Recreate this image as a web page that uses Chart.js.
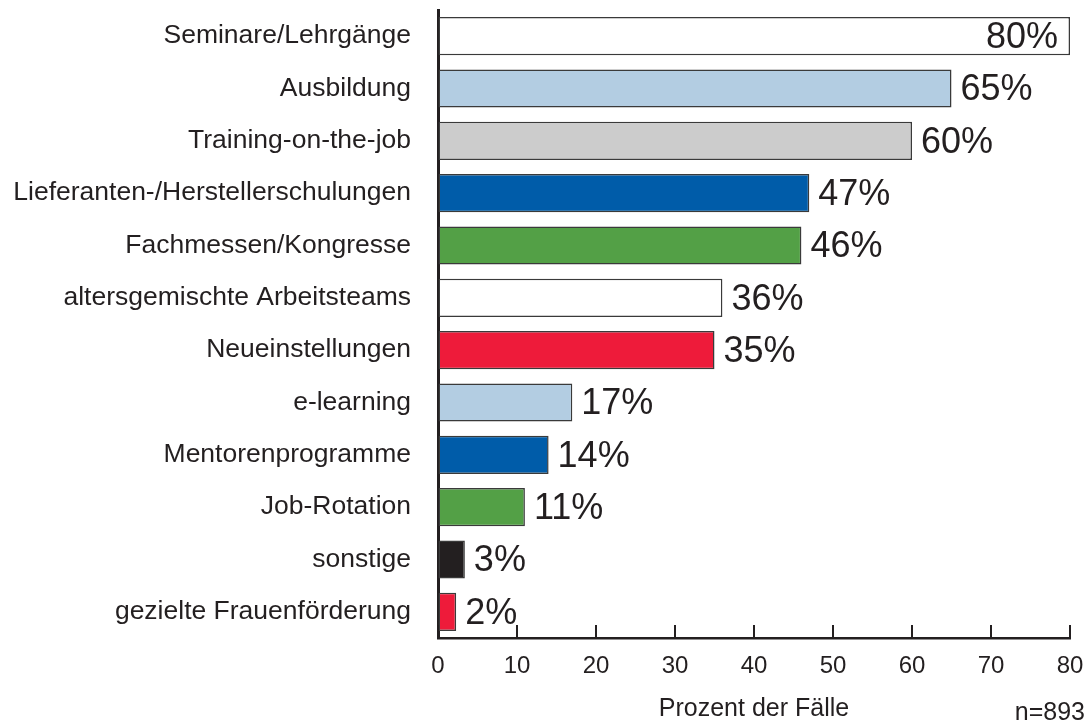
<!DOCTYPE html>
<html><head><meta charset="utf-8">
<script src="https://cdn.jsdelivr.net/npm/chart.js@4.4.0/dist/chart.umd.min.js"></script>
<style>html,body{margin:0;padding:0;background:#fff}#wrap{width:1091px;height:724px;position:relative}</style>
</head><body><div id="wrap"><canvas id="c" width="1091" height="724"></canvas></div>
<script>
const categories = ["Seminare/Lehrgänge","Ausbildung","Training-on-the-job","Lieferanten-/Herstellerschulungen","Fachmessen/Kongresse","altersgemischte Arbeitsteams","Neueinstellungen","e-learning","Mentorenprogramme","Job-Rotation","sonstige","gezielte Frauenförderung"];
const values = [80, 65, 60, 47, 46, 36, 35, 17, 14, 11, 3.4, 2.3];
const valueLabels = ["80%","65%","60%","47%","46%","36%","35%","17%","14%","11%","3%","2%"];
const barColors = ["#ffffff","#b3cde2","#cccccc","#005ca9","#53a046","#ffffff","#ee1b3a","#b3cde2","#005ca9","#53a046","#231f20","#ee1b3a"];
const xTicks = [0,10,20,30,40,50,60,70,80];
const xTitle = "Prozent der Fälle";
const note = "n=893";

const FONT = "'Liberation Sans', Arial, Helvetica, sans-serif";
const INK = "#231f20";

const extras = {
  id: 'extras',
  afterDatasetsDraw(chart) {
    const ctx = chart.ctx;
    const meta = chart.getDatasetMeta(0);
    const x = chart.scales.x;
    const area = chart.chartArea;
    ctx.save();
    ctx.strokeStyle = INK; ctx.lineWidth = 2;
    xTicks.forEach(v => {
      const px = Math.round(x.getPixelForValue(v));
      ctx.beginPath(); ctx.moveTo(px, area.bottom); ctx.lineTo(px, area.bottom - 13); ctx.stroke();
    });
    ctx.fillStyle = INK;
    ctx.font = "36px " + FONT;
    ctx.textBaseline = 'middle';
    meta.data.forEach((bar, i) => {
      if (values[i] >= 80) {
        ctx.textAlign = 'right';
        ctx.fillText(valueLabels[i], bar.x - 12, bar.y + 2);
      } else {
        ctx.textAlign = 'left';
        ctx.fillText(valueLabels[i], bar.x + 9, bar.y + 2);
      }
    });
    ctx.font = "25px " + FONT;
    ctx.textAlign = 'center'; ctx.textBaseline = 'alphabetic';
    ctx.fillText(xTitle, 754, 716);
    ctx.textAlign = 'right';
    ctx.fillText(note, 1085, 720);
    ctx.restore();
  }
};

new Chart(document.getElementById('c'), {
  type: 'bar',
  data: {
    labels: categories,
    datasets: [{
      data: values,
      backgroundColor: barColors,
      borderColor: "#3a3a3a",
      borderWidth: 1.5,
      borderSkipped: false,
      barPercentage: 0.73,
      categoryPercentage: 1.0
    }]
  },
  options: {
    indexAxis: 'y',
    responsive: false,
    animation: false,
    layout: { autoPadding: false, padding: { top: 10, right: 21, left: 0, bottom: 0 } },
    plugins: { legend: { display: false }, tooltip: { enabled: false } },
    scales: {
      x: {
        min: 0, max: 80,
        afterFit(s) { s.height = 86; s.paddingLeft = 0; s.paddingRight = 0; s.paddingTop = 0; s.paddingBottom = 0; },
        afterBuildTicks(s) { s.ticks = xTicks.map(v => ({ value: v })); },
        grid: { display: true, drawOnChartArea: false, drawTicks: false },
        border: { display: true, color: INK, width: 2.5 },
        ticks: { color: INK, font: { family: FONT, size: 24 }, padding: 14, maxRotation: 0 }
      },
      y: {
        afterFit(s) { s.width = 438; s.paddingLeft = 0; s.paddingRight = 0; s.paddingTop = 0; s.paddingBottom = 0; },
        grid: { display: false, drawTicks: false },
        border: { display: true, color: INK, width: 3 },
        ticks: { color: INK, font: { family: FONT, size: 26.5 }, padding: 27, crossAlign: 'near' }
      }
    }
  },
  plugins: [extras]
});
</script></body></html>
